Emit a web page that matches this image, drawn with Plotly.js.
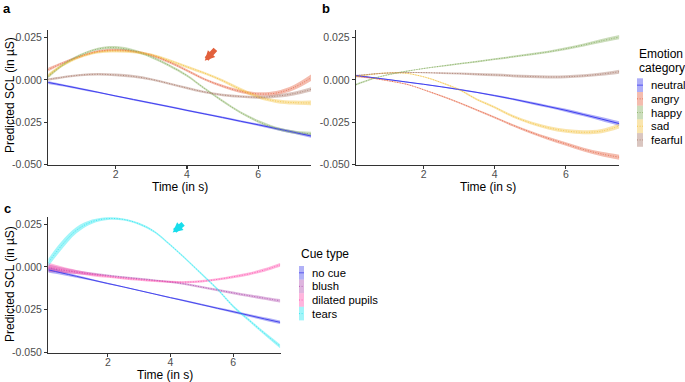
<!DOCTYPE html>
<html>
<head>
<meta charset="utf-8">
<script src="https://cdn.plot.ly/plotly-3.0.1.min.js"></script>
<style>html,body{margin:0;padding:0;background:#fff;}#chart{width:685px;height:382px;}</style>
</head>
<body>
<div id="chart"></div>
<script>
// ---- data ----
const time = [0.1, 0.5, 1, 1.5, 2, 2.5, 3, 3.5, 4, 4.5, 5, 5.5, 6, 6.5, 7, 7.5];

const emotionLabels = ['neutral', 'angry', 'happy', 'sad', 'fearful'];
const cueLabels = ['no cue', 'blush', 'dilated pupils', 'tears'];
const yTickVals = [-0.05, -0.025, 0, 0.025];
const yTickText = ['-0.050', '-0.025', '0.000', '0.025'];
const xTickVals = [2, 4, 6];

// panel a
const aNeutral = [-0.0015,-0.0031,-0.0052,-0.0073,-0.0095,-0.0116,-0.0137,-0.0158,-0.0180,-0.0201,-0.0222,-0.0244,-0.0265,-0.0287,-0.0309,-0.0332];
const aAngry   = [0.0060,0.0098,0.0138,0.0168,0.0176,0.0168,0.0145,0.0105,0.0055,0.0003,-0.0037,-0.0068,-0.0083,-0.0078,-0.0045,0.0015];
const aHappy   = [0.0018,0.0085,0.0145,0.0182,0.0190,0.0172,0.0135,0.0085,0.0025,-0.0052,-0.0125,-0.0192,-0.0245,-0.0285,-0.0308,-0.0318];
const aSad     = [0.0025,0.0085,0.0135,0.0163,0.0170,0.0165,0.0148,0.0115,0.0077,0.0039,-0.0005,-0.0056,-0.0100,-0.0125,-0.0134,-0.0136];
const aFearful = [0.0002,0.0015,0.0028,0.0033,0.0029,0.0020,0.0003,-0.0022,-0.0048,-0.0072,-0.0089,-0.0098,-0.0103,-0.0096,-0.0081,-0.0055];
const aNeutralSE = [0.0009,0.0007,0.0006,0.0005,0.0005,0.0005,0.0005,0.0005,0.0005,0.0005,0.0006,0.0006,0.0007,0.0008,0.0009,0.0011];
const aAngrySE   = [0.0011,0.0008,0.0007,0.0007,0.0007,0.0007,0.0007,0.0007,0.0007,0.0007,0.0008,0.0009,0.0010,0.0012,0.0015,0.0019];
const aHappySE   = [0.0010,0.0008,0.0007,0.0008,0.0009,0.0008,0.0007,0.0007,0.0007,0.0007,0.0007,0.0007,0.0008,0.0009,0.0010,0.0012];
const aSadSE     = [0.0011,0.0008,0.0007,0.0007,0.0008,0.0008,0.0008,0.0008,0.0008,0.0008,0.0008,0.0009,0.0010,0.0011,0.0012,0.0014];
const aFearfulSE = [0.0008,0.0007,0.0007,0.0007,0.0008,0.0008,0.0007,0.0007,0.0007,0.0007,0.0007,0.0008,0.0009,0.0010,0.0011,0.0013];

// panel b
const bNeutral = [0.0025,0.0015,0.0002,-0.0012,-0.0026,-0.0041,-0.0057,-0.0074,-0.0093,-0.0113,-0.0135,-0.0157,-0.0180,-0.0205,-0.0231,-0.0258];
const bAngry   = [0.0021,0.0012,-0.0005,-0.0025,-0.0058,-0.0095,-0.0135,-0.0178,-0.0222,-0.0267,-0.0308,-0.0345,-0.0378,-0.0411,-0.0437,-0.0456];
const bHappy   = [-0.0028,0.0002,0.0030,0.0050,0.0067,0.0081,0.0095,0.0108,0.0122,0.0136,0.0150,0.0165,0.0184,0.0206,0.0230,0.0252];
const bSad     = [0.0019,0.0032,0.0041,0.0039,0.0018,-0.0016,-0.0058,-0.0116,-0.0162,-0.0214,-0.0253,-0.0282,-0.0301,-0.0309,-0.0302,-0.0272];
const bFearful = [0.0025,0.0033,0.0040,0.0043,0.0043,0.0040,0.0037,0.0033,0.0029,0.0024,0.0020,0.0017,0.0018,0.0024,0.0034,0.0048];
const bNeutralSE = [0.0005,0.0004,0.0003,0.0003,0.0003,0.0003,0.0004,0.0004,0.0005,0.0006,0.0007,0.0008,0.0009,0.0010,0.0012,0.0014];
const bAngrySE   = [0.0005,0.0004,0.0003,0.0003,0.0003,0.0004,0.0004,0.0005,0.0006,0.0007,0.0008,0.0009,0.0010,0.0011,0.0013,0.0015];
const bHappySE   = [0.0005,0.0004,0.0003,0.0003,0.0003,0.0004,0.0004,0.0005,0.0005,0.0006,0.0007,0.0007,0.0008,0.0009,0.0011,0.0013];
const bSadSE     = [0.0004,0.0003,0.0003,0.0003,0.0003,0.0004,0.0005,0.0006,0.0007,0.0008,0.0009,0.0010,0.0011,0.0012,0.0013,0.0015];
const bFearfulSE = [0.0004,0.0003,0.0003,0.0003,0.0004,0.0005,0.0006,0.0007,0.0008,0.0008,0.0009,0.0009,0.0009,0.0009,0.0010,0.0012];

// panel c
const cNoCue  = [-0.0017,-0.0034,-0.0055,-0.0076,-0.0097,-0.0117,-0.0138,-0.0159,-0.0180,-0.0200,-0.0221,-0.0242,-0.0262,-0.0283,-0.0304,-0.0324];
const cBlush  = [-0.0008,-0.0018,-0.0030,-0.0041,-0.0050,-0.0060,-0.0069,-0.0078,-0.0088,-0.0101,-0.0118,-0.0135,-0.0152,-0.0168,-0.0183,-0.0198];
const cPupils = [0.0000,-0.0014,-0.0030,-0.0045,-0.0057,-0.0067,-0.0075,-0.0082,-0.0087,-0.0089,-0.0084,-0.0073,-0.0058,-0.0041,-0.0018,0.0012];
const cTears  = [0.0025,0.0120,0.0215,0.0265,0.0283,0.0278,0.0252,0.0205,0.0128,0.0045,-0.0042,-0.0130,-0.0230,-0.0310,-0.0389,-0.0464];
const cNoCueSE  = [0.0016,0.0012,0.0008,0.0005,0.0004,0.0003,0.0003,0.0003,0.0004,0.0005,0.0005,0.0006,0.0007,0.0008,0.0009,0.0010];
const cBlushSE  = [0.0022,0.0016,0.0011,0.0008,0.0006,0.0005,0.0005,0.0005,0.0006,0.0006,0.0007,0.0007,0.0008,0.0008,0.0009,0.0010];
const cPupilsSE = [0.0024,0.0018,0.0012,0.0009,0.0007,0.0006,0.0006,0.0006,0.0006,0.0006,0.0007,0.0007,0.0008,0.0009,0.0010,0.0011];
const cTearsSE  = [0.0022,0.0024,0.0018,0.0012,0.0008,0.0006,0.0006,0.0006,0.0006,0.0006,0.0006,0.0006,0.0007,0.0008,0.0009,0.0012];

// ---- styling ----
const emoColors = ['#3F3FEF', '#E5603F', '#83AD5C', '#F4C23C', '#A87868'];
const cueColors = ['#4646EC', '#B04FB0', '#FF4FAE', '#22E6F0'];
const FONT = '"Liberation Sans", Arial, sans-serif';

function rgba(hex, a) {
  const n = parseInt(hex.slice(1), 16);
  return `rgba(${(n >> 16) & 255},${(n >> 8) & 255},${n & 255},${a})`;
}

const traces = [];
function addGroup(xa, ya, series, ses, colors) {
  series.forEach((v, i) => {
    const up = v.map((d, k) => d + ses[i][k]);
    const lo = v.map((d, k) => d - ses[i][k]);
    traces.push({x: time, y: up, xaxis: xa, yaxis: ya, mode: 'lines', line: {width: 0, shape: 'spline'}, hoverinfo: 'skip', showlegend: false});
    traces.push({x: time, y: lo, xaxis: xa, yaxis: ya, mode: 'lines', line: {width: 0, shape: 'spline'}, fill: 'tonexty', fillcolor: rgba(colors[i], 0.42), hoverinfo: 'skip', showlegend: false});
  });
  series.forEach((v, i) => {
    traces.push({x: time, y: v, xaxis: xa, yaxis: ya, mode: 'lines',
      line: {color: i === 0 ? colors[i] : rgba(colors[i], 0.9), width: i === 0 ? 1 : 0.9, dash: i === 0 ? 'solid' : '1px,1.6px', shape: 'spline'}, showlegend: false});
  });
}
addGroup('x', 'y', [aNeutral, aAngry, aHappy, aSad, aFearful], [aNeutralSE, aAngrySE, aHappySE, aSadSE, aFearfulSE], emoColors);
addGroup('x2', 'y2', [bNeutral, bAngry, bHappy, bSad, bFearful], [bNeutralSE, bAngrySE, bHappySE, bSadSE, bFearfulSE], emoColors);
addGroup('x3', 'y3', [cNoCue, cBlush, cPupils, cTears], [cNoCueSE, cBlushSE, cPupilsSE, cTearsSE], cueColors);

const W = 685, H = 382;
const px = v => v / W, py = v => 1 - v / H;

function xAxis(dom, range, anchor) {
  return {domain: dom, range: range, anchor: anchor, tickvals: xTickVals, ticktext: xTickVals.map(String),
    showgrid: false, zeroline: false, showline: true, linecolor: '#333', linewidth: 1.3,
    ticks: 'outside', ticklen: 3, tickwidth: 1.1, tickcolor: '#333', ticklabelstandoff: -4,
    tickfont: {family: FONT, size: 10.5, color: '#4D4D4D'}, fixedrange: true};
}
function yAxis(dom, anchor) {
  return {domain: dom, range: [-0.0502, 0.0294], anchor: anchor, tickvals: yTickVals, ticktext: yTickText,
    showgrid: false, zeroline: false, showline: true, linecolor: '#333', linewidth: 1.3,
    ticks: 'outside', ticklen: 3, tickwidth: 1.1, tickcolor: '#333',
    tickfont: {family: FONT, size: 10.5, color: '#4D4D4D'}, fixedrange: true};
}

const annotations = [];
const shapes = [];
function txt(x, y, text, opts) {
  annotations.push(Object.assign({xref: 'paper', yref: 'paper', x: px(x), y: py(y), text: text, showarrow: false,
    xanchor: 'center', yanchor: 'middle', font: {family: FONT, size: 12, color: '#000'}}, opts || {}));
}
// panel letters
txt(7, 9, '<b>a</b>', {font: {family: FONT, size: 13, color: '#000'}});
txt(326, 9, '<b>b</b>', {font: {family: FONT, size: 13, color: '#000'}});
txt(7, 208, '<b>c</b>', {font: {family: FONT, size: 13, color: '#000'}});
// axis titles
txt(10, 95, 'Predicted SCL (in µS)', {textangle: -90});
txt(10, 284, 'Predicted SCL (in µS)', {textangle: -90});
txt(180, 187.5, 'Time (in s)');
txt(488, 187.5, 'Time (in s)');
txt(165, 374.5, 'Time (in s)');

// legends
function legend(x0, yTitle, titleLines, labels, colors, keyTop, keyH, keyW, textX) {
  titleLines.forEach((t, i) => txt(x0, yTitle + i * 13.7, t, {xanchor: 'left'}));
  labels.forEach((lab, i) => {
    const y0 = keyTop + i * keyH, y1 = y0 + keyH, ym = (y0 + y1) / 2;
    shapes.push({type: 'rect', xref: 'paper', yref: 'paper', x0: px(x0), x1: px(x0 + keyW), y0: py(y0), y1: py(y1),
      fillcolor: rgba(colors[i], 0.42), line: {width: 0}, layer: 'above'});
    shapes.push({type: 'line', xref: 'paper', yref: 'paper', x0: px(x0), x1: px(x0 + keyW), y0: py(ym), y1: py(ym),
      line: {color: colors[i], width: 0.8, dash: i === 0 ? 'solid' : '1px,1.6px'}, layer: 'above'});
    txt(textX, ym, lab, {xanchor: 'left', font: {family: FONT, size: 11.3, color: '#000'}});
  });
}
legend(637, 54, ['Emotion', 'category'], emotionLabels, emoColors, 78.3, 13.7, 6, 649);
legend(299, 253.5, ['Cue type'], cueLabels, cueColors, 266, 13.6, 5, 310);

// arrows pointing at the curves
annotations.push({xref: 'x', yref: 'y', x: 4.5, y: 0.0112, ax: 12, ay: -13, showarrow: true,
  arrowhead: 2, arrowsize: 0.4, arrowwidth: 5, arrowcolor: '#E2603C', text: ''});
annotations.push({xref: 'x3', yref: 'y3', x: 4.07, y: 0.0201, ax: 12, ay: -10, showarrow: true,
  arrowhead: 2, arrowsize: 0.4, arrowwidth: 5, arrowcolor: '#18DDEB', text: ''});

const layout = {
  width: W, height: H, margin: {l: 0, r: 0, t: 0, b: 0},
  paper_bgcolor: '#fff', plot_bgcolor: '#fff', showlegend: false,
  font: {family: FONT},
  xaxis: xAxis([px(48.3), px(311)], [0.11, 7.48], 'y'),
  yaxis: yAxis([py(165), py(30)], 'x'),
  xaxis2: xAxis([px(356), px(619.3)], [0.1, 7.5], 'y2'),
  yaxis2: yAxis([py(165), py(30)], 'x2'),
  xaxis3: xAxis([px(48.3), px(281)], [0.1, 7.53], 'y3'),
  yaxis3: yAxis([py(352.7), py(216.7)], 'x3'),
  annotations: annotations, shapes: shapes
};
Plotly.newPlot('chart', traces, layout, {staticPlot: true, displayModeBar: false});
</script>
</body>
</html>
